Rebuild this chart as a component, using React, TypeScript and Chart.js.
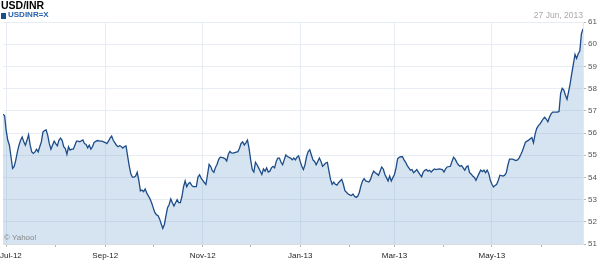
import { useEffect, useRef } from "react";
import { Chart, registerables } from "chart.js";

Chart.register(...registerables);

// ---- text ----
const chartTitle = "USD/INR";
const seriesName = "USDINR=X";
const dateStamp = "27 Jun, 2013";
const creditText = "© Yahoo!";

// ---- x axis: days since 1 Jul 2012 ----
const xMinDay = -2; // 29 Jun 2012
const xMaxDay = 361; // 27 Jun 2013
const monthTickDays = [0, 31, 62, 92, 123, 153, 184, 215, 243, 274, 304, 335];
const monthTickLabels = ["Jul-12", "", "Sep-12", "", "Nov-12", "", "Jan-13", "", "Mar-13", "", "May-13", ""];

// ---- y axis ----
const yMin = 51;
const yMax = 61;

// ---- series: day offset (since 1 Jul 2012) and rate ----
const days = [
  -2, -1, 0, 1, 2, 3, 4, 5, 6, 7,
  8, 9, 10, 11, 12, 13, 14, 15, 16, 17,
  18, 19, 20, 21, 22, 23, 24, 25, 26, 27,
  28, 29, 30, 31, 32, 33, 34, 35, 36, 37,
  38, 39, 40, 41, 42, 43, 44, 45, 46, 48,
  49, 50, 51, 52, 53, 54, 55, 57, 58, 59,
  60, 62, 63, 64, 65, 66, 67, 69, 70, 71,
  72, 73, 74, 75, 76, 77, 78, 79, 80, 81,
  82, 83, 84, 85, 86, 87, 88, 90, 91, 92,
  93, 94, 95, 96, 97, 98, 99, 100, 101, 102,
  103, 104, 105, 106, 107, 108, 109, 110, 111, 112,
  113, 114, 115, 116, 117, 119, 120, 121, 122, 123,
  124, 125, 126, 127, 128, 129, 130, 131, 132, 133,
  134, 136, 137, 138, 139, 140, 141, 142, 143, 145,
  146, 147, 148, 149, 150, 151, 152, 153, 154, 155,
  156, 157, 158, 159, 160, 161, 162, 163, 164, 165,
  166, 167, 168, 169, 170, 171, 172, 173, 174, 175,
  176, 178, 179, 180, 181, 182, 183, 184, 185, 186,
  187, 188, 189, 190, 191, 192, 193, 194, 195, 196,
  197, 198, 199, 200, 201, 202, 203, 204, 205, 206,
  207, 208, 209, 210, 211, 212, 214, 215, 216, 217,
  218, 219, 220, 221, 222, 223, 224, 225, 227, 228,
  229, 230, 231, 232, 233, 234, 235, 236, 237, 238,
  239, 240, 241, 242, 243, 244, 245, 246, 247, 248,
  249, 250, 251, 252, 253, 254, 255, 256, 257, 258,
  259, 260, 261, 262, 263, 264, 265, 266, 267, 268,
  269, 271, 273, 274, 275, 276, 278, 279, 280, 281,
  282, 283, 284, 285, 286, 287, 288, 289, 290, 291,
  292, 293, 294, 295, 296, 297, 298, 299, 300, 301,
  302, 303, 304, 305, 306, 307, 308, 309, 311, 312,
  313, 314, 315, 317, 318, 319, 320, 321, 322, 323,
  324, 325, 327, 328, 329, 330, 331, 332, 333, 334,
  335, 336, 337, 338, 339, 340, 341, 342, 343, 345,
  346, 347, 348, 349, 350, 351, 352, 353, 354, 355,
  356, 357, 358, 359, 360, 361,
];

const rates = [
  56.85, 56.78, 56.11, 55.67, 55.45, 54.93, 54.40, 54.49, 54.78, 55.15,
  55.45, 55.67, 55.82, 55.60, 55.45, 55.67, 55.92, 55.45, 55.15, 55.08,
  55.15, 55.27, 55.15, 55.38, 55.60, 56.04, 56.11, 56.14, 55.89, 55.52,
  55.27, 55.45, 55.63, 55.52, 55.42, 55.67, 55.77, 55.67, 55.38, 55.30,
  55.04, 55.38, 55.23, 55.27, 55.27, 55.45, 55.63, 55.63, 55.60, 55.69,
  55.52, 55.48, 55.33, 55.45, 55.27, 55.38, 55.57, 55.66, 55.65, 55.63,
  55.63, 55.57, 55.52, 55.63, 55.77, 55.86, 55.67, 55.45, 55.38, 55.43,
  55.39, 55.32, 55.39, 55.42, 54.96, 54.52, 54.16, 54.01, 54.01, 54.06,
  54.23, 53.87, 53.39, 53.43, 53.36, 53.48, 53.29, 53.04, 52.86, 52.64,
  52.42, 52.32, 52.28, 52.13, 51.91, 51.70, 51.88, 52.28, 52.64, 52.78,
  53.03, 52.86, 52.71, 52.86, 53.00, 52.86, 52.86, 53.14, 53.58, 53.84,
  53.58, 53.72, 53.77, 53.65, 53.58, 53.58, 54.01, 54.12, 53.97, 53.87,
  53.77, 53.68, 54.12, 54.59, 54.49, 54.30, 54.23, 54.45, 54.59, 54.81,
  54.91, 54.88, 54.84, 54.74, 55.03, 55.17, 55.10, 55.09, 55.12, 55.16,
  55.31, 55.53, 55.60, 55.46, 55.56, 55.68, 55.31, 54.79, 54.35, 54.24,
  54.68, 54.57, 54.43, 54.28, 54.13, 54.38, 54.28, 54.43, 54.24, 54.28,
  54.43, 54.50, 54.43, 54.72, 54.87, 54.87, 54.68, 54.57, 54.79, 55.01,
  54.94, 54.87, 54.79, 54.87, 54.79, 54.91, 54.97, 54.72, 54.50, 54.35,
  54.57, 54.94, 55.16, 55.24, 55.01, 54.79, 54.72, 54.57, 54.72, 54.87,
  54.72, 54.50, 54.57, 54.65, 54.68, 54.28, 53.91, 53.69, 53.79, 53.69,
  53.65, 53.76, 53.84, 53.91, 53.69, 53.40, 53.25, 53.21, 53.18, 53.25,
  53.15, 53.10, 53.15, 53.32, 53.62, 53.84, 53.94, 53.84, 53.79, 53.91,
  54.13, 54.28, 54.21, 54.16, 54.09, 54.28, 54.47, 54.38, 54.13, 53.99,
  53.84, 54.06, 53.84, 53.99, 54.13, 54.43, 54.85, 54.90, 54.93, 54.93,
  54.79, 54.68, 54.53, 54.43, 54.32, 54.35, 54.21, 54.28, 54.35, 54.24,
  54.13, 54.03, 54.24, 54.32, 54.35, 54.28, 54.32, 54.24, 54.32, 54.38,
  54.35, 54.38, 54.35, 54.24, 54.38, 54.47, 54.50, 54.72, 54.91, 54.82,
  54.68, 54.57, 54.50, 54.53, 54.43, 54.32, 54.47, 54.52, 54.21, 54.15,
  54.06, 54.00, 53.87, 54.03, 54.18, 54.33, 54.26, 54.33, 54.21, 54.33,
  54.18, 53.87, 53.69, 53.57, 53.64, 53.69, 53.87, 54.10, 54.06, 54.10,
  54.21, 54.56, 54.82, 54.82, 54.79, 54.76, 54.79, 54.87, 55.02, 55.18,
  55.38, 55.59, 55.68, 55.74, 55.79, 55.56, 55.94, 56.20, 56.32, 56.40,
  56.51, 56.63, 56.71, 56.63, 56.51, 56.71, 56.86, 56.94, 56.94, 56.94,
  56.97, 57.78, 58.01, 57.93, 57.70, 57.52, 57.86, 58.24, 58.70, 59.11,
  59.54, 59.36, 59.57, 59.69, 60.46, 60.69,
];

const FONT = '"Liberation Sans", Arial, Helvetica, sans-serif';

export default function App() {
  const canvasRef = useRef<HTMLCanvasElement | null>(null);

  useEffect(() => {
    document.body.style.margin = "0";
    const canvas = canvasRef.current;
    if (!canvas) return;

    const n = Math.min(days.length, rates.length);
    const points = [] as { x: number; y: number }[];
    for (let i = 0; i < n; i++) points.push({ x: days[i], y: rates[i] });

    const gridColor = "rgba(222,230,238,0.7)";

    const xLabelPlugin = {
      id: "xMonthLabels",
      afterDraw(chart: any) {
        const ctx = chart.ctx as CanvasRenderingContext2D;
        const xs = chart.scales.x;
        ctx.save();
        ctx.font = `8px ${FONT}`;
        ctx.fillStyle = "#222";
        ctx.textAlign = "left";
        ctx.textBaseline = "alphabetic";
        monthTickDays.forEach((d, i) => {
          const lab = monthTickLabels[i];
          if (!lab) return;
          const w = ctx.measureText(lab).width;
          let x = xs.getPixelForValue(d) - w / 2;
          if (x < 0) x = 0;
          ctx.fillText(lab, x, chart.chartArea.bottom + 13.5);
        });
        ctx.restore();
      },
    };

    const chart = new Chart(canvas, {
      type: "line",
      data: {
        datasets: [
          {
            label: seriesName,
            data: points,
            borderColor: "#1d4c88",
            borderWidth: 1.3,
            backgroundColor: "rgba(120,165,210,0.3)",
            fill: "start",
            pointRadius: 0,
            tension: 0,
          },
        ],
      },
      options: {
        animation: false,
        responsive: false,
        devicePixelRatio: 1,
        parsing: false as any,
        layout: { padding: { left: 3, top: 22, right: 0, bottom: 0 } },
        plugins: {
          legend: { display: false },
          title: { display: false },
          tooltip: { enabled: false },
        },
        scales: {
          x: {
            type: "linear",
            min: xMinDay,
            max: xMaxDay,
            z: 1,
            afterBuildTicks: (scale: any) => {
              scale.ticks = monthTickDays.map((v) => ({ value: v }));
            },
            afterFit: (scale: any) => {
              scale.height = 27;
              scale.paddingLeft = 0;
              scale.paddingRight = 0;
            },
            ticks: { display: false },
            grid: {
              color: (ctx: any) => {
                const i = ctx.index;
                return ctx.tick && monthTickLabels[i] ? gridColor : "rgba(0,0,0,0)";
              },
              tickColor: "#b8b8b8",
              tickLength: 3,
              drawTicks: true,
            },
            border: { display: true, color: "#d8dde2" },
          },
          y: {
            type: "linear",
            position: "right",
            min: yMin,
            max: yMax,
            z: 1,
            afterFit: (scale: any) => {
              scale.width = 17;
              scale.paddingTop = 0;
              scale.paddingBottom = 0;
            },
            ticks: {
              stepSize: 1,
              padding: 2,
              color: "#555",
              font: { family: FONT, size: 8 },
            },
            grid: {
              color: gridColor,
              tickColor: "#b8b8b8",
              tickLength: 3,
            },
            border: { display: true, color: "#e3e8ed" },
          },
        },
      },
      plugins: [xLabelPlugin],
    } as any);

    return () => chart.destroy();
  }, []);

  return (
    <div style={{ position: "relative", width: 600, height: 271, fontFamily: FONT, background: "#fff" }}>
      <canvas ref={canvasRef} width={600} height={271} style={{ position: "absolute", left: 0, top: 0, width: 600, height: 271 }} />
      <div style={{ position: "absolute", left: 1, top: 0, fontSize: 10.5, lineHeight: "10.5px", fontWeight: "bold", color: "#000", whiteSpace: "nowrap" }}>
        {chartTitle}
      </div>
      <div style={{ position: "absolute", left: 1, top: 12.5, width: 5, height: 6, background: "#1f4f8b" }} />
      <div style={{ position: "absolute", left: 8, top: 11.2, fontSize: 8, lineHeight: "8px", fontWeight: "bold", color: "#2a64a8", whiteSpace: "nowrap" }}>
        {seriesName}
      </div>
      <div style={{ position: "absolute", right: 17, top: 10.8, fontSize: 8.5, lineHeight: "8.5px", color: "#aaa", whiteSpace: "nowrap" }}>
        {dateStamp}
      </div>
      <div style={{ position: "absolute", left: 4, top: 233.5, fontSize: 8, lineHeight: "8px", color: "#888", whiteSpace: "nowrap" }}>
        {creditText}
      </div>
    </div>
  );
}
